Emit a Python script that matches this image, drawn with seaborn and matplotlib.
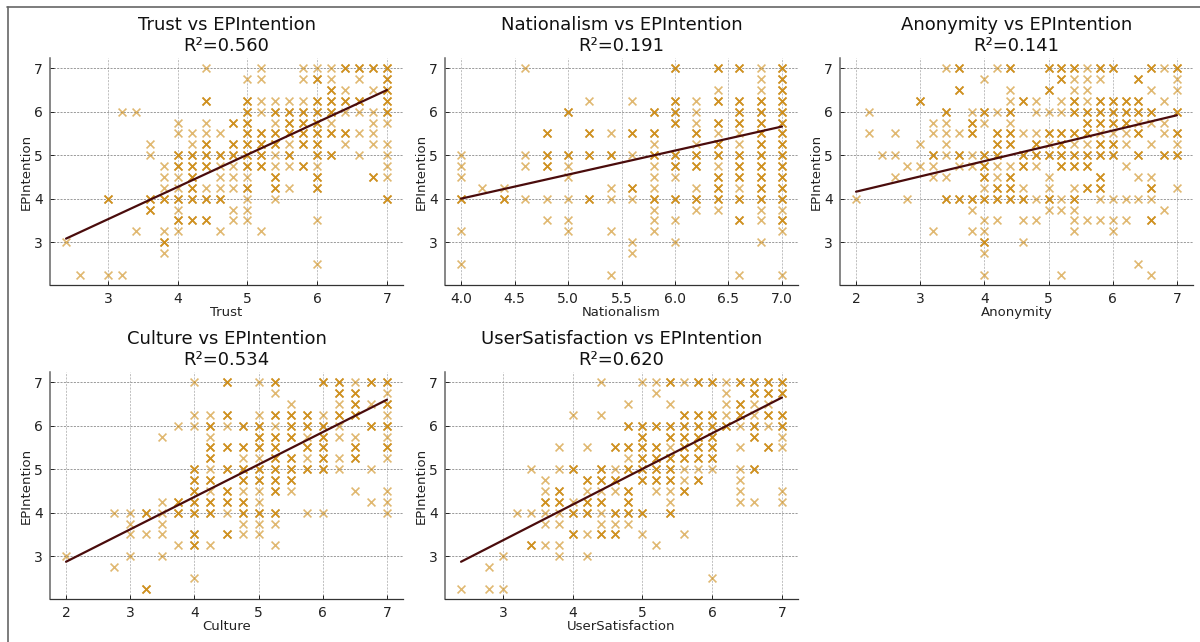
import matplotlib
matplotlib.use("Agg")
import matplotlib.pyplot as plt
from matplotlib.lines import Line2D
import seaborn as sns
import pandas as pd

y_levels = [7, 6.75, 6.5, 6.25, 6, 5.75, 5.5, 5.25, 5, 4.75, 4.5, 4.25, 4, 3.75, 3.5, 3.25, 3, 2.75, 2.5, 2.25]

# x values per y level: light = one response, dark = overlapping responses
trust_light = [
    [4.4, 5.2, 5.8, 6, 6.2],
    [5, 5.2, 5.8, 6.2, 6.6],
    [6.4, 6.8],
    [5.2, 5.4, 5.6, 5.8],
    [3.2, 3.4, 5.2, 6.4, 6.6, 6.8],
    [4, 4.4, 5.4, 6.2, 6.8, 7],
    [4, 4.2, 4.4, 4.6, 6.6, 6.8],
    [3.6, 4.2, 5.6, 6.4, 6.8, 7],
    [3.6, 5.4, 6.6, 7],
    [3.8, 4.6, 4.8, 5.4, 5.6, 6, 7],
    [3.8, 4, 4.6, 4.8, 5, 7],
    [3.8, 4, 4.4, 4.6, 4.8, 5.6],
    [5, 5.4],
    [4, 4.8, 5],
    [4.8, 5, 6],
    [3.4, 3.8, 4, 4.6, 5.2],
    [2.4],
    [3.8],
    [6],
    [2.6, 3, 3.2],
]
trust_dark = [
    [6.4, 6.6, 6.8, 7],
    [6, 7],
    [6.2, 7],
    [4.4, 5, 6, 6.2, 6.4, 6.6, 7],
    [5, 5.4, 5.6, 5.8, 6, 6.2, 7],
    [4.8, 5, 5.6, 5.8, 6],
    [5, 5.2, 5.4, 5.6, 5.8, 6, 6.2, 6.4],
    [4.4, 4.8, 5, 5.2, 5.4, 5.8, 6],
    [4, 4.2, 4.4, 4.6, 4.8, 5, 5.2, 5.6, 6, 6.2],
    [4, 4.2, 4.4, 5, 5.2, 5.8],
    [4.2, 5.4, 6, 6.8],
    [4.2, 5, 5.4, 6],
    [3, 3.6, 3.8, 4, 4.2, 4.4, 4.6, 7],
    [3.6],
    [4, 4.2, 4.4],
    [],
    [3.8],
    [],
    [],
    [],
]

nationalism_light = [
    [4.6, 6.8],
    [6.8],
    [6.4, 6.8],
    [5.2, 5.6, 6.2],
    [6.2],
    [6.2],
    [5.4, 6.4, 6.6],
    [5.8, 6.2, 6.6],
    [4, 4.6, 5.6],
    [4, 4.6, 5, 5.8, 6.4],
    [4, 5, 5.8, 6],
    [4.2, 4.4, 5.4, 5.8, 6.2, 6.6],
    [4.6, 4.8, 5, 5.4, 5.6],
    [5.8, 6.2, 6.4, 6.8, 7],
    [4.8, 5, 5.8, 6, 6.8],
    [4, 5, 5.4, 5.8, 7],
    [5.6, 6, 6.8],
    [5.6],
    [4],
    [5.4, 6.6, 7],
]
nationalism_dark = [
    [6, 6.4, 6.6, 7],
    [7],
    [7],
    [6, 6.4, 6.6, 6.8, 7],
    [5, 5.8, 6, 6.6, 6.8, 7],
    [6, 6.4, 6.6, 6.8, 7],
    [4.8, 5.2, 5.6, 5.8, 6.2, 6.8, 7],
    [6.4, 6.8, 7],
    [4.8, 5, 5.2, 5.4, 5.8, 6, 6.2, 6.4, 6.6, 6.8, 7],
    [4.8, 6, 6.2, 6.6, 6.8, 7],
    [6.4, 6.6, 6.8, 7],
    [5.6, 6.4, 6.8, 7],
    [4, 4.4, 5.2, 5.8, 6, 6.2, 6.4, 6.6, 6.8, 7],
    [],
    [6.6, 7],
    [],
    [],
    [],
    [],
    [],
]

anonymity_light = [
    [3.4, 4.2, 5.6, 6.8],
    [4, 5.4, 5.6, 5.8, 7],
    [4.4, 5.4, 5.6, 6.6, 7],
    [4.4, 4.8, 5.2, 5.6, 6.8],
    [2.2, 3.8, 4.2, 4.8, 5, 5.2],
    [3.2, 3.4, 4, 4.4, 6.4, 6.6, 6.8],
    [2.2, 2.6, 3.2, 3.4, 3.6, 4.6, 4.8, 5.8, 6, 6.2, 6.8],
    [3, 3.4, 5, 5.4, 5.6, 6.2, 6.6, 7],
    [2.4, 2.6, 3.4, 3.8],
    [2.8, 3, 3.2, 3.6, 3.8, 4.2, 4.4, 4.8, 6.2],
    [2.6, 3.2, 3.4, 4.2, 5, 6.4, 6.6],
    [4, 4.6, 5, 5.4, 7],
    [2, 2.8, 4.8, 5.2, 5.8, 6, 6.2, 6.4, 6.6],
    [3.8, 5, 5.2, 5.4, 6.8],
    [4, 4.2, 4.6, 4.8, 5.4, 5.6, 5.8, 6, 6.2],
    [3.2, 3.8, 4, 5.4, 6],
    [4.6],
    [4],
    [6.4],
    [4, 5.2, 6.6],
]
anonymity_dark = [
    [3.6, 4.4, 5, 5.2, 5.4, 5.8, 6, 6.6, 7],
    [5.2, 6.4],
    [3.6, 5],
    [3, 4.6, 5.4, 5.8, 6, 6.2, 6.4],
    [3.4, 4, 4.4, 5.4, 5.6, 5.8, 6, 6.2, 6.4, 6.6, 7],
    [3.8, 5.6, 5.8, 6, 6.2],
    [3.8, 4.2, 4.4, 5, 5.2, 5.4, 5.6, 6.4, 7],
    [4.2, 4.4, 4.8, 5.2, 5.8, 6],
    [3.2, 3.6, 4, 4.2, 4.6, 4.8, 5, 5.2, 5.4, 5.6, 5.8, 6, 6.4, 6.8, 7],
    [4, 4.6, 5.2, 5.4, 5.6],
    [4, 4.4, 5.8],
    [4.2, 4.4, 5.6, 5.8, 6.6],
    [3.4, 3.6, 3.8, 4, 4.2, 4.4, 4.6, 5, 5.4],
    [],
    [6.6],
    [],
    [4],
    [],
    [],
    [],
]

culture_light = [
    [4, 5, 6.5],
    [5.25, 7],
    [5.5, 6.25, 6.75],
    [4, 4.25, 5, 6, 7],
    [3.75, 4, 4.5, 5.25, 6.25],
    [3.5, 4.25, 5.75, 6.25, 6.5, 7],
    [],
    [4.75, 5, 5.75, 6.25, 7],
    [4.25, 6.25, 6.75],
    [],
    [4.25, 4.75, 5, 5.5, 6.5, 7],
    [3.5, 5, 6.75, 7],
    [2.75, 3, 3.5, 4.5, 5.75, 6, 7],
    [3, 3.5, 4.75, 5, 5.25],
    [3, 3.25, 3.5, 4.75, 5],
    [3.75, 4.25, 5.25],
    [2, 3, 3.5],
    [2.75],
    [4],
    [],
]
culture_dark = [
    [4.5, 5.25, 6, 6.25, 6.75, 7],
    [6.25, 6.5],
    [6.5, 7],
    [4.5, 5.25, 5.5, 5.75, 6.25, 6.5],
    [4.25, 4.75, 5, 5.5, 5.75, 6, 6.75, 7],
    [5, 5.25, 5.5, 6],
    [4.25, 4.5, 4.75, 5, 5.25, 5.75, 6, 6.5, 7],
    [4.25, 5.25, 5.5, 6, 6.5],
    [4, 4.5, 4.75, 5, 5.25, 5.5, 5.75, 6],
    [4, 4.25, 4.75, 5, 5.25, 5.5],
    [4, 4.5, 5.25],
    [3.75, 4, 4.25, 4.5, 4.75],
    [3.25, 3.75, 4, 4.25, 4.75, 5, 5.25],
    [],
    [4, 4.5],
    [4],
    [],
    [],
    [],
    [3.25],
]

satisfaction_light = [
    [4.4, 5, 5.2, 5.6, 6.2],
    [5.2, 6.2],
    [4.8, 5.4, 6.2, 6.6, 6.8],
    [4, 4.4, 6.2, 6.6],
    [6.4, 6.8],
    [7],
    [3.8, 4.2, 5.4, 6.4, 7],
    [4.8],
    [3.4, 3.8, 4.6, 5.6, 5.8, 6, 6.4],
    [3.6, 5.6, 6.4],
    [3.6, 4.2, 4.4, 4.6, 5.2, 5.4, 6.4, 7],
    [4, 5.4, 6.4, 6.6, 7],
    [3.2, 3.4, 3.6, 3.8, 4.4],
    [3.6, 3.8, 4.4, 4.6, 4.8],
    [4.2, 5, 5.6],
    [3.6, 3.8, 5.2],
    [3, 3.8, 4.2],
    [2.8],
    [6],
    [2.4, 2.8, 3],
]
satisfaction_dark = [
    [5.4, 5.8, 6, 6.4, 6.6, 6.8, 7],
    [6.6, 6.8, 7],
    [6.4],
    [5.6, 5.8, 6, 6.4, 6.8, 7],
    [4.8, 5, 5.2, 5.4, 5.6, 5.8, 6, 6.2, 6.6, 7],
    [5, 5.4, 5.6, 5.8, 6, 6.6],
    [4.6, 4.8, 5, 5.2, 5.6, 5.8, 6, 6.8],
    [5, 5.2, 5.4, 5.6, 5.8, 6],
    [4, 4.4, 4.8, 5, 5.2, 5.4, 6.6],
    [4.2, 4.4, 4.6, 5, 5.2, 5.4, 5.8],
    [3.8, 4.8, 5.6],
    [3.6, 3.8, 4.2, 4.4, 4.8],
    [4, 4.2, 4.6, 4.8, 5, 5.4],
    [],
    [4, 4.4, 4.6],
    [3.4],
    [],
    [],
    [],
    [],
]

# regression line end points
trust_line = ([2.4, 7], [3.08, 6.5])
nationalism_line = ([4, 7], [4.0, 5.66])
anonymity_line = ([2, 7], [4.16, 5.92])
culture_line = ([2, 7], [2.87, 6.6])
satisfaction_line = ([2.4, 7], [2.87, 6.65])

panels = [
    ("Trust", "0.560", trust_light, trust_dark, trust_line),
    ("Nationalism", "0.191", nationalism_light, nationalism_dark, nationalism_line),
    ("Anonymity", "0.141", anonymity_light, anonymity_dark, anonymity_line),
    ("Culture", "0.534", culture_light, culture_dark, culture_line),
    ("UserSatisfaction", "0.620", satisfaction_light, satisfaction_dark, satisfaction_line),
]

MARK = "#cc8a12"
W, H = 1200, 642
# axes boxes in pixels: left, right, top, bottom
boxes = [
    (50, 403, 58, 285),
    (445, 798, 58, 285),
    (840, 1193, 58, 285),
    (50, 403, 372, 599),
    (445, 798, 372, 599),
]


def to_long(light, dark):
    rows = []
    for y, xs_light, xs_dark in zip(y_levels, light, dark):
        rows += [(x, y) for x in xs_light]
        # dark marks are overlapping responses
        rows += [(x, y) for x in xs_dark for _ in range(3)]
    return pd.DataFrame(rows, columns=["x", "y"])


sns.set_theme(style="white")
plt.rcParams["font.family"] = ["DejaVu Sans"]

fig = plt.figure(figsize=(W / 100, H / 100), dpi=100)

for (name, r2, light, dark, line), (l, r, t, b) in zip(panels, boxes):
    ax = fig.add_axes([l / W, 1 - b / H, (r - l) / W, (b - t) / H])
    df = to_long(light, dark)
    sns.scatterplot(data=df, x="x", y="y", marker="x", s=32, color=MARK, alpha=0.6, linewidth=1.2, ax=ax, zorder=2)
    sns.lineplot(x=line[0], y=line[1], color="#4a0c0c", linewidth=1.6, ax=ax, zorder=3)
    ax.set_axisbelow(True)
    ax.grid(True, axis="y", color="#8a8a8a", linestyle=(0, (2.5, 1.5)), linewidth=0.6)
    ax.grid(True, axis="x", color="#b5b5b5", linestyle=(0, (2.5, 1.5)), linewidth=0.6)
    ax.set_title(f"{name} vs EPIntention\nR²={r2}", fontsize=13, pad=5, color="#111111", linespacing=1.2)
    ax.set_xlabel(name, fontsize=9.5, labelpad=0, color="#222222")
    ax.set_ylabel("EPIntention", fontsize=9.5, labelpad=1, color="#222222")
    ax.tick_params(axis="both", direction="in", length=3, width=0.7, labelsize=10, pad=5, colors="#222222", bottom=True, left=True)
    ax.set_yticks([3, 4, 5, 6, 7])
    if name == "Nationalism":
        ax.set_xticks([4, 4.5, 5, 5.5, 6, 6.5, 7])
    sns.despine(ax=ax)
    ax.spines["left"].set_color("#666666")
    ax.spines["left"].set_linewidth(1.1)
    ax.spines["bottom"].set_color("#333333")
    ax.spines["bottom"].set_linewidth(0.9)

# outer frame of the screenshot, top and left only
fig.add_artist(Line2D([7 / W, 1], [1 - 7 / H, 1 - 7 / H], color="#666666", linewidth=1.2))
fig.add_artist(Line2D([7.5 / W, 7.5 / W], [0, 1 - 7 / H], color="#666666", linewidth=1.2))

fig.savefig("out.png", dpi=100)
